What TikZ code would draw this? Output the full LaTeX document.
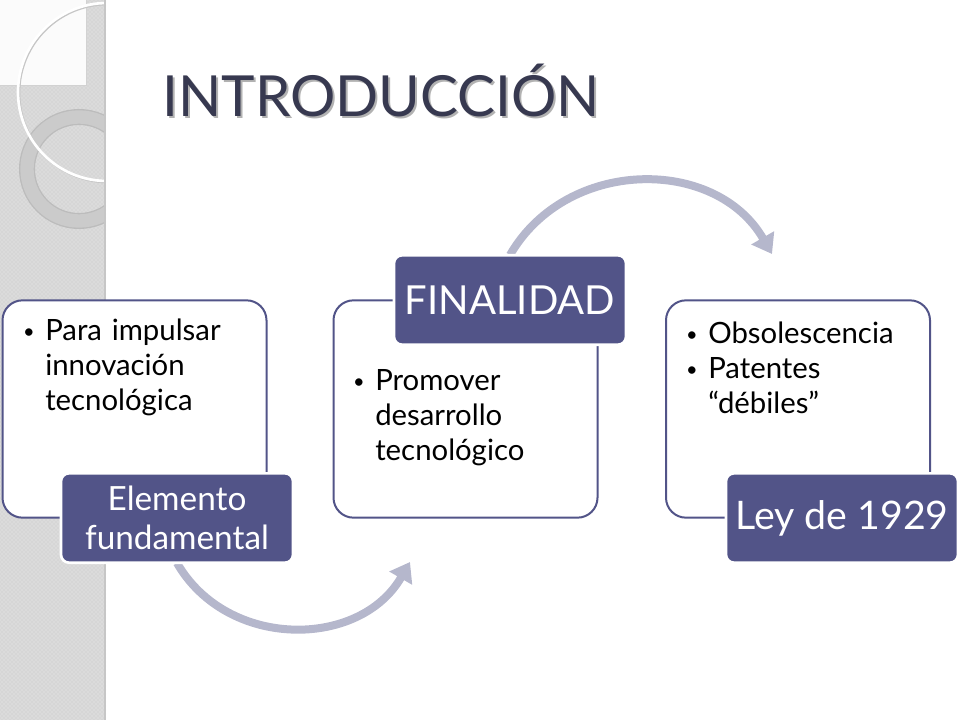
\documentclass[tikz,border=0pt]{standalone}
\usepackage{fontspec}
\setmainfont{Lato}
\usetikzlibrary{arrows.meta,patterns}

\definecolor{tabfill}{RGB}{82,84,136}
\definecolor{boxline}{RGB}{82,84,136}
\definecolor{arrowgray}{RGB}{181,183,204}
\definecolor{titlecol}{RGB}{55,57,80}
\definecolor{stripgray}{RGB}{214,214,214}
\definecolor{ringedge}{RGB}{188,188,188}
\definecolor{ringfill}{RGB}{203,203,203}

\tikzset{
  panel/.style={rectangle, rounded corners=15pt, draw=boxline, line width=1.5pt,
    fill=white, inner sep=0pt, minimum width=198pt, minimum height=163pt},
  tab/.style={rectangle, rounded corners=6pt, fill=tabfill, draw=white, line width=2pt,
    text=white, inner sep=0pt, align=center, minimum width=174pt, minimum height=67pt},
  bullets/.style={anchor=base west, inner sep=0pt, align=left, text width=175pt,
    font=\fontsize{22}{26}\selectfont},
  bendarrow/.style={draw=arrowgray, line width=6pt, -{Triangle[length=14pt,width=19pt]},
    looseness=1.1},
}
\newcommand\bitem{\par\noindent\llap{\raisebox{1.5pt}{\fontsize{15}{15}\selectfont\textbullet}\hspace{8pt}}}

\begin{document}
\begin{tikzpicture}[x=0.75pt, y=0.75pt]
    \useasboundingbox (0,0) rectangle (960,-720);

    % side strip
    \fill[stripgray] (0,0) rectangle (106,-720);
    \fill[pattern=crosshatch dots, pattern color=white!55!stripgray] (0,0) rectangle (106,-720);
    \fill[white!90!stripgray] (0,0) rectangle (86,-85);
    \draw[gray!35, line width=0.5pt] (0,-85) -- (86,-85) -- (86,0);
    \begin{scope}
        \clip (0,0) rectangle (105,-720);
        \draw[ringedge, line width=12pt] (79,-169) circle (52);
        \draw[ringfill, line width=10pt] (79,-169) circle (52);
        \draw[gray!45, line width=2pt] (108,-93) circle (89);
        \draw[white, line width=2pt] (107,-92) circle (89);
    \end{scope}
    \draw[gray!45, line width=1pt] (105,0) -- (105,-720);

    % title
    \node (titleshadow) at (383,-93) [text=black!30, font=\fontsize{42.5}{50}\selectfont] {INTRODUCCIÓN};
    \node (title) at (381,-91) [text=titlecol, font=\fontsize{42.5}{50}\selectfont] {INTRODUCCIÓN};

    % boxes
    \node (box1) at (134.5,-409) [panel] {};
    \node (box2) at (465.5,-409) [panel] {};
    \node (box3) at (798,-409) [panel] {};

    \node (txt1) at (45,-306) [bullets] {\bitem Para impulsar\\ innovación\\ tecnológica};
    \node (txt2) at (375,-356) [bullets] {\bitem Promover\\ desarrollo\\ tecnológico};
    \node (txt3) at (708,-309) [bullets] {\bitem Obsolescencia \bitem Patentes\\ ``débiles''};

    % arrows
    \coordinate (finalidadin) at (410,-562);
    \coordinate (leyin) at (772,-254);
    \draw [bendarrow] (177,-563) to[out=-60, in=-120] (finalidadin);
    \draw [bendarrow] (510,-255) to[out=60, in=120] (leyin);

    % tabs
    \node (elemento) at (177,-518) [tab, font=\fontsize{25}{29}\selectfont] {Elemento\\ fundamental};
    \node (finalidad) at (510,-300) [tab, font=\fontsize{30}{34}\selectfont] {FINALIDAD};
    \node (ley) at (842,-518) [tab, font=\fontsize{29.5}{34}\selectfont] {Ley de 1929};
\end{tikzpicture}
\end{document}
